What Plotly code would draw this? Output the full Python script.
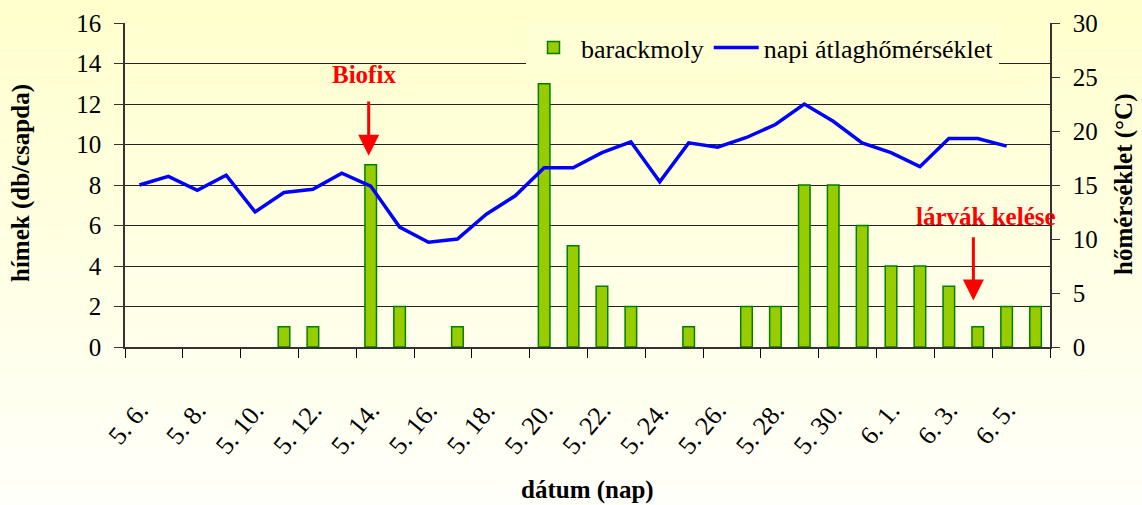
import plotly.graph_objects as go

# dates (category axis)
datumok = ["5. %d." % d for d in range(6, 32)] + ["6. %d." % d for d in range(1, 7)]

# barackmoly catches (db/csapda)
barackmoly = [0, 0, 0, 0, 0, 1, 1, 0, 9, 2, 0, 1, 0, 0, 13, 5, 3, 2, 0, 1,
              0, 2, 2, 8, 8, 6, 4, 4, 3, 1, 2, 2]

# daily mean temperature (°C)
homerseklet = [15.0, 15.8, 14.5, 15.9, 12.5, 14.3, 14.6, 16.1, 14.9, 11.1,
               9.7, 10.0, 12.3, 14.0, 16.6, 16.6, 18.0, 19.0, 15.3, 18.9,
               18.5, 19.4, 20.6, 22.5, 20.9, 18.9, 18.0, 16.7, 19.3, 19.3,
               18.6, None]

W, H = 1142, 505
L, R, T, B = 125, 92, 23, 158
font = "Liberation Serif, Times New Roman, serif"
pw, ph = W - L - R, H - T - B


def px(x):
    return (x - L) / pw


def py(y):
    return (H - B - y) / ph


fig = go.Figure()

fig.add_trace(go.Bar(
    x=datumok, y=[v if v else None for v in barackmoly], name="barackmoly",
    marker=dict(color="#99CC00", line=dict(color="#008000", width=1.5)),
    yaxis="y",
))
fig.add_trace(go.Scatter(
    x=datumok, y=homerseklet, name="napi átlaghőmérséklet",
    mode="lines", line=dict(color="#0000FF", width=3.5),
    yaxis="y2",
))

# background gradient
n = 40
shapes = []
for i in range(n):
    f = (i + 0.5) / n
    g = int(round(204 + (250 - 204) * f))
    shapes.append(dict(
        type="rect", xref="paper", yref="paper", layer="below",
        x0=px(-5), x1=px(W + 5),
        y0=py(H * (i + 1) / n), y1=py(H * i / n) + 0.001,
        fillcolor="rgb(255,255,%d)" % g, line=dict(width=0),
    ))

arrow = dict(showarrow=True, arrowhead=2, arrowsize=1.4, arrowwidth=3,
             arrowcolor="#FF0000", text="", xref="x", yref="y",
             axref="x", ayref="y")
red = dict(family=font, size=25, color="#FF0000")
black = dict(family=font, size=25, color="#000000")
annotations = [
    dict(text="<b>Biofix</b>", x=7.77, y=13.45, xref="x", yref="y",
         showarrow=False, font=red),
    dict(arrow, x=7.93, y=9.45, ax=7.93, ay=12.2),
    dict(text="<b>lárvák kelése</b>", x=29.3, y=6.45, xref="x", yref="y",
         showarrow=False, font=red),
    dict(arrow, x=28.85, y=2.3, ax=28.85, ay=5.5),
    dict(text="<b>dátum (nap)</b>", x=px(587), y=py(490),
         xanchor="center", yanchor="middle",
         xref="paper", yref="paper", showarrow=False, font=black),
    dict(text="<b>hímek (db/csapda)</b>", x=px(21), y=py(183), textangle=-90,
         xanchor="center", yanchor="middle",
         xref="paper", yref="paper", showarrow=False, font=black),
    dict(text="<b>hőmérséklet (°C)</b>", x=px(1124), y=py(185), textangle=-90,
         xanchor="center", yanchor="middle",
         xref="paper", yref="paper", showarrow=False, font=black),
]

fig.update_layout(
    width=W, height=H,
    margin=dict(l=L, r=R, t=T, b=B, autoexpand=False),
    paper_bgcolor="#FFFFF8",
    plot_bgcolor="rgba(0,0,0,0)",
    font=dict(family=font, size=25, color="#000000"),
    bargap=0.6,
    shapes=shapes,
    annotations=annotations,
    showlegend=True,
    legend=dict(orientation="h", x=px(526), y=py(24), xanchor="left", yanchor="top",
                bgcolor="#FFFFD6", font=dict(family=font, size=26),
                itemwidth=45, tracegroupgap=0),
    xaxis=dict(
        type="category", tickson="boundaries", dtick=2, tickangle=-50,
        tickfont=dict(size=26),
        ticks="outside", ticklen=9, tickcolor="#000000",
        showline=True, linecolor="#333333", linewidth=1.5,
        showgrid=False, ticklabelstandoff=36, automargin=False,
        range=[-0.5, len(datumok) - 0.5],
    ),
    yaxis=dict(
        range=[0, 16], dtick=2, ticks="outside", ticklen=9, tickcolor="#333333",
        showline=True, linecolor="#333333", linewidth=1.5,
        showgrid=True, gridcolor="#222222", gridwidth=1, zeroline=False,
        ticklabelstandoff=8, automargin=False,
    ),
    yaxis2=dict(
        overlaying="y", side="right", range=[0, 30], dtick=5,
        ticks="outside", ticklen=8, tickcolor="#333333",
        showline=True, linecolor="#333333", linewidth=1.5,
        showgrid=False, zeroline=False, ticklabelstandoff=8, automargin=False,
    ),
)

fig.write_html("out.html", config={"displayModeBar": False},
               post_script="document.body.style.margin='0';")
